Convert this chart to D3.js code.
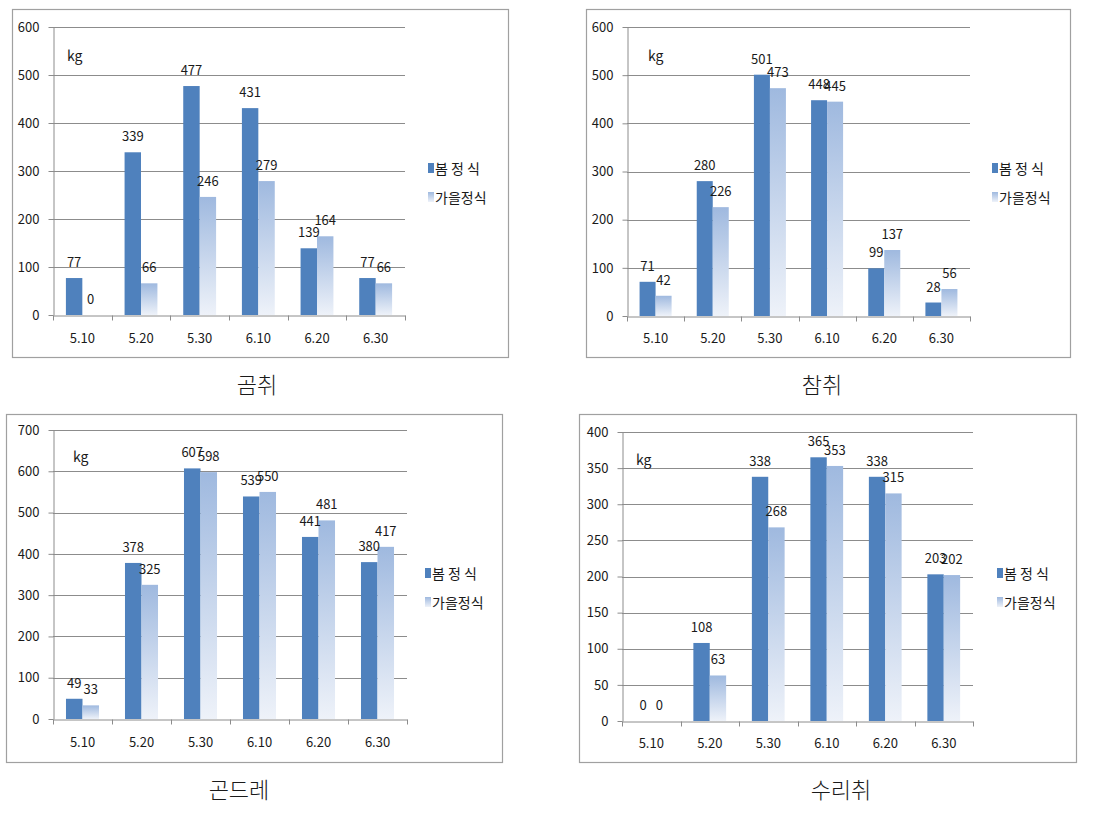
<!DOCTYPE html>
<html><head><meta charset="utf-8">
<script src="https://cdn.jsdelivr.net/npm/d3@7"></script>
<style>
body{margin:0;background:#fff;}
svg{display:block;}
text{font-family:"Noto Sans CJK KR","Liberation Sans",sans-serif;fill:#1a1a1a;}
</style></head>
<body>
<svg id="c" width="1104" height="829"></svg>
<script>
const categories = ["5.10","5.20","5.30","6.10","6.20","6.30"];
const seriesNames = ["봄 정 식","가을정식"];
const chartTitles = ["곰취","참취","곤드레","수리취"];
const unitLabel = "kg";

const gomchwiSpring = [77,339,477,431,139,77];
const gomchwiAutumn = [0,66,246,279,164,66];
const chamchwiSpring = [71,280,501,448,99,28];
const chamchwiAutumn = [42,226,473,445,137,56];
const gondreSpring = [49,378,607,539,441,380];
const gondreAutumn = [33,325,598,550,481,417];
const surichwiSpring = [0,108,338,365,338,203];
const surichwiAutumn = [0,63,268,353,315,202];

const ticksA = [0,100,200,300,400,500,600];
const ticksB = [0,100,200,300,400,500,600];
const ticksC = [0,100,200,300,400,500,600,700];
const ticksD = [0,50,100,150,200,250,300,350,400];

const layouts = [
  {frame:[12,9,496,348], x0:53, x1:405, yTop:27, yBot:315, legX:428, legY:[169,198], kg:[67,61], title:[257,393], xlab:342},
  {frame:[586,9,484,348], x0:627, x1:970, yTop:27, yBot:316, legX:992, legY:[169,198], kg:[648,61], title:[822,393], xlab:342},
  {frame:[6,414,496,348], x0:53, x1:407, yTop:430, yBot:719, legX:425, legY:[574,603], kg:[73,462], title:[239,798], xlab:746},
  {frame:[579,414,497,348], x0:622, x1:973, yTop:432, yBot:721, legX:997, legY:[574,603], kg:[636,465], title:[841,798], xlab:747}
];
const charts = [
  {title:chartTitles[0], spring:gomchwiSpring, autumn:gomchwiAutumn, ticks:ticksA},
  {title:chartTitles[1], spring:chamchwiSpring, autumn:chamchwiAutumn, ticks:ticksB},
  {title:chartTitles[2], spring:gondreSpring, autumn:gondreAutumn, ticks:ticksC},
  {title:chartTitles[3], spring:surichwiSpring, autumn:surichwiAutumn, ticks:ticksD}
];

const svg = d3.select("#c");
const defs = svg.append("defs");
const grad = defs.append("linearGradient").attr("id","autumnGrad")
  .attr("x1",0).attr("y1",0).attr("x2",0).attr("y2",1);
grad.append("stop").attr("offset","0%").attr("stop-color","#9fb9df");
grad.append("stop").attr("offset","100%").attr("stop-color","#eef2f9");

const springColor = "#4f81bd";
const gridColor = "#8c8c8c";

charts.forEach((ch, i) => {
  const L = layouts[i];
  const g = svg.append("g");
  const [fx,fy,fw,fh] = L.frame;
  g.append("rect").attr("x",fx+0.5).attr("y",fy+0.5).attr("width",fw).attr("height",fh)
    .attr("fill","#fff").attr("stroke","#a0a0a0").attr("stroke-width",1.2);

  const x = d3.scaleBand().domain(categories).range([L.x0, L.x1]).paddingInner(0).paddingOuter(0);
  const bw = x.bandwidth();
  const xs = d3.scaleBand().domain(seriesNames).range([0.22*bw, 0.78*bw]).padding(0);
  const maxV = d3.max(ch.ticks);
  const y = d3.scaleLinear().domain([0, maxV]).range([L.yBot, L.yTop]);

  // gridlines
  g.append("g").selectAll("line").data(ch.ticks.filter(t=>t>0)).join("line")
    .attr("x1",L.x0).attr("x2",L.x1)
    .attr("y1",d=>Math.round(y(d))+0.5).attr("y2",d=>Math.round(y(d))+0.5)
    .attr("stroke",gridColor).attr("stroke-width",1);

  // bars
  const rows = categories.map((c,k)=>({cat:c, vals:[ch.spring[k], ch.autumn[k]]}));
  const bars = g.append("g");
  rows.forEach(r=>{
    r.vals.forEach((v,s)=>{
      if (v>0) {
        bars.append("rect")
          .attr("x", x(r.cat)+xs(seriesNames[s]))
          .attr("y", y(v))
          .attr("width", xs.bandwidth())
          .attr("height", y(0)-y(v))
          .attr("fill", s===0 ? springColor : "url(#autumnGrad)");
      }
    });
  });

  // y axis
  const yAxis = d3.axisLeft(y).tickValues(ch.ticks).tickSize(5).tickPadding(9).tickSizeOuter(0)
    .tickFormat(d3.format("d"));
  const ya = g.append("g").attr("transform",`translate(${L.x0+0.5},0)`).call(yAxis);
  ya.select(".domain").attr("stroke",gridColor);
  ya.selectAll(".tick line").attr("stroke",gridColor);
  ya.selectAll(".tick text").style("font-size","13px").style("font-family",'"Noto Sans CJK KR",sans-serif').attr("fill","#1a1a1a");

  // x axis
  const xAxis = d3.axisBottom(x).tickSize(0).tickPadding(0).tickSizeOuter(0);
  const xa = g.append("g").attr("transform",`translate(0,${Math.round(L.yBot)+0.5})`).call(xAxis);
  xa.select(".domain").attr("stroke",gridColor);
  xa.selectAll(".tick text").attr("dy",null).attr("y", L.xlab - Math.round(L.yBot))
    .style("font-size","13px").style("font-family",'"Noto Sans CJK KR",sans-serif').attr("fill","#1a1a1a");
  // boundary tick marks
  const bounds = categories.map(c=>x(c)).concat([L.x1]);
  xa.append("g").selectAll("line").data(bounds).join("line")
    .attr("x1",d=>Math.round(d)+0.5).attr("x2",d=>Math.round(d)+0.5)
    .attr("y1",0).attr("y2",5).attr("stroke",gridColor);

  // data labels
  const lab = g.append("g");
  rows.forEach(r=>{
    r.vals.forEach((v,s)=>{
      lab.append("text")
        .attr("x", x(r.cat)+xs(seriesNames[s])+xs.bandwidth()/2)
        .attr("y", y(v)-11)
        .attr("text-anchor","middle")
        .style("font-size","13px")
        .text(v);
    });
  });

  // kg
  g.append("text").attr("x",L.kg[0]).attr("y",L.kg[1]).style("font-size","14px").text(unitLabel);

  // legend
  const leg = g.append("g");
  seriesNames.forEach((n,s)=>{
    leg.append("rect").attr("x",L.legX).attr("y",L.legY[s]-6).attr("width",6).attr("height",10)
      .attr("fill", s===0 ? springColor : "url(#autumnGrad)");
    leg.append("text").attr("x",L.legX+7).attr("y",L.legY[s]+5).style("font-size","14px").text(n);
  });

  // title
  g.append("text").attr("x",L.title[0]).attr("y",L.title[1]).attr("text-anchor","middle")
    .style("font-size","22px").style("font-weight","300").text(ch.title);
});
</script>
</body></html>
